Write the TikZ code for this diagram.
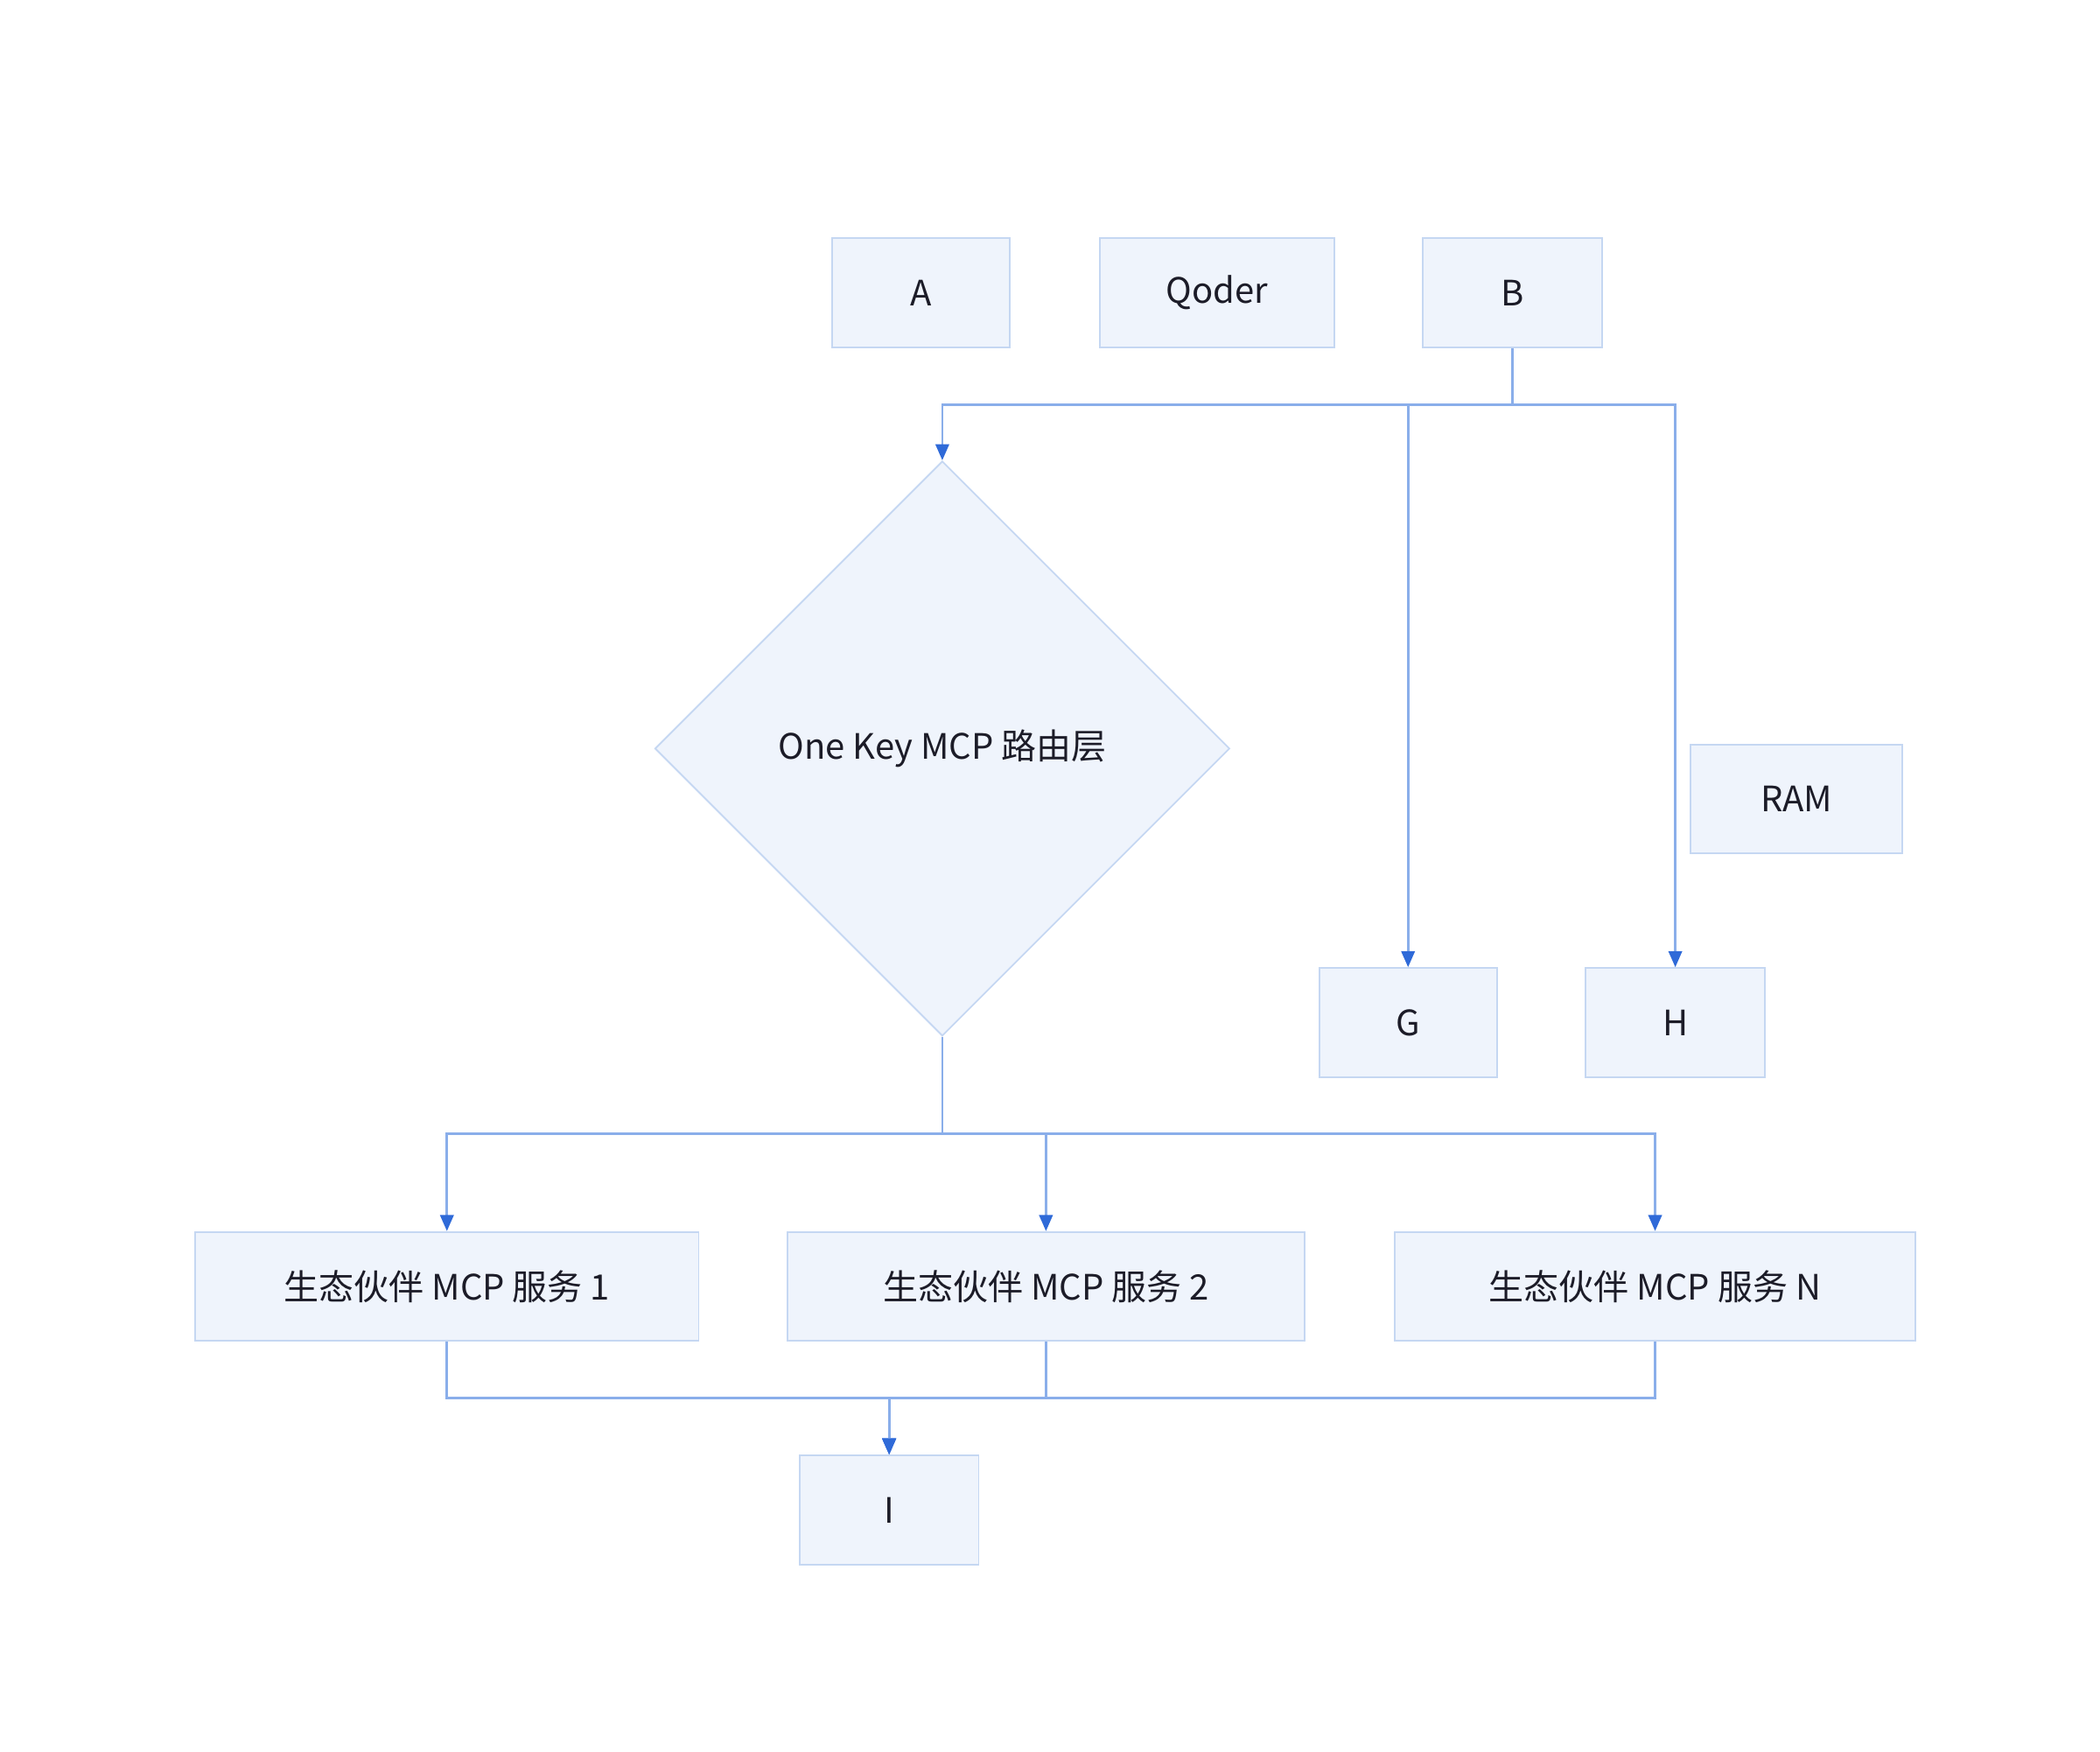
\documentclass[tikz,border=0pt]{standalone}
\usepackage{fontspec}
\setmainfont{Noto Sans CJK SC}
\usetikzlibrary{arrows.meta}
\usetikzlibrary{shapes.geometric}
\definecolor{boxfill}{HTML}{EFF4FC}
\definecolor{boxline}{HTML}{C5D7F2}
\definecolor{flowline}{HTML}{8AAEEA}
\definecolor{flowtip}{HTML}{2F6AD8}
\definecolor{txt}{HTML}{1C1C28}

\begin{document}
\begin{tikzpicture}[x=0.5pt,y=0.5pt]
   \tikzstyle{box} = [draw=boxline,fill=boxfill,line width=0.6pt,
     minimum height=40.5pt,inner sep=0pt,text=txt,
     font=\fontsize{13}{15}\selectfont]
   \tikzstyle{dec} = [box,diamond,aspect=1,minimum width=213.5pt,
     minimum height=213.5pt]
   \tikzstyle{flow} = [draw=flowline,line width=0.9pt,
     -{Triangle[length=6pt,width=5pt,color=flowtip]}]
   \useasboundingbox (0,0) rectangle (1560,-1301);
   %% top row
   \node[box,minimum width=66pt] (A) at (684,-217.5) {A};
   \node[box,minimum width=87pt] (Q) at (904,-217.5) {Qoder};
   \node[box,minimum width=66.5pt] (B) at (1123.5,-217.5) {B};
   %% router
   \node[dec] (D) at (700,-556) {One Key MCP 路由层};
   \node[box,minimum width=78.5pt] (RAM) at (1334.5,-593.5) {RAM};
   \node[box,minimum width=66pt] (G) at (1046,-759.5) {G};
   \node[box,minimum width=66.5pt] (H) at (1244.5,-759.5) {H};
   %% partner services
   \node[box,minimum width=187pt] (S1) at (332,-955.5) {生态伙伴 MCP 服务 1};
   \node[box,minimum width=192pt] (S2) at (777,-955.5) {生态伙伴 MCP 服务 2};
   \node[box,minimum width=193.5pt] (SN) at (1229.5,-955.5) {生态伙伴 MCP 服务 N};
   \node[box,minimum width=66.5pt] (I) at (660.5,-1121.5) {I};
   %% connectors
   \draw[flow] (B.south) -- ++(0,-42) -| (D.north);
   \draw[flow] (B.south) -- ++(0,-42) -| (G.north);
   \draw[flow] (B.south) -- ++(0,-42) -| (H.north);
   \foreach \s in {S1,S2,SN} {
     \draw[flow] (D.south) -- ++(0,-72) -| (\s.north);
     \draw[flow] (\s.south) -- ++(0,-42) -| (I.north);
   }
\end{tikzpicture}
\end{document}
